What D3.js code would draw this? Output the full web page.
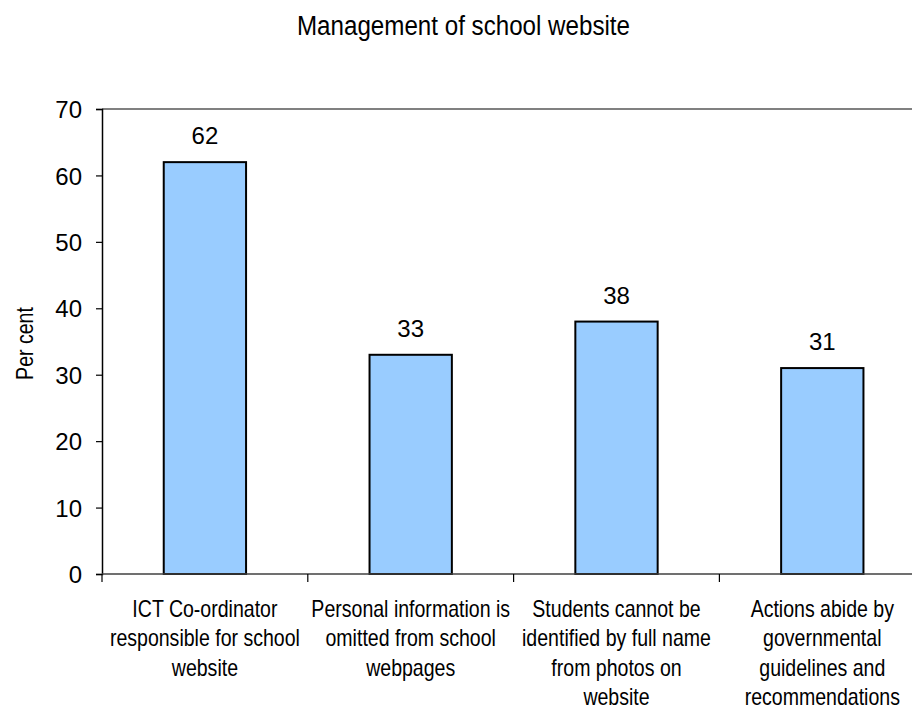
<!DOCTYPE html>
<html>
<head>
<meta charset="utf-8">
<script src="https://cdn.jsdelivr.net/npm/d3@7"></script>
<style>
  html, body { margin: 0; padding: 0; background: #fff; }
  svg { display: block; }
  text { font-family: "Liberation Sans", Arial, sans-serif; fill: #000; }
</style>
</head>
<body>
<svg id="chart" width="912" height="711"></svg>
<script>
// Survey results: share of schools (per cent) for each website-management practice
const categories = [
  ["ICT Co-ordinator", "responsible for school", "website"],
  ["Personal information is", "omitted from school", "webpages"],
  ["Students cannot be", "identified by full name", "from photos on", "website"],
  ["Actions abide by", "governmental", "guidelines and", "recommendations"]
];
const values = [62, 33, 38, 31];
const yTicks = [0, 10, 20, 30, 40, 50, 60, 70];
const title = "Management of school website";
const yTitle = "Per cent";

const svg = d3.select("#chart");
const margin = { left: 102, top: 109, bottom: 574 };
const plotRight = 102 + 4 * 205.8;
// horizontal squeeze used for the condensed labels
const narrow = 0.85;

const x = d3.scaleBand()
  .domain(d3.range(values.length))
  .range([margin.left, plotRight])
  .paddingInner(0.6)
  .paddingOuter(0.3);

const y = d3.scaleLinear().domain([0, 70]).range([margin.bottom, margin.top]);

// Title
svg.append("text")
  .attr("x", 463.5).attr("y", 35)
  .attr("text-anchor", "middle")
  .attr("font-size", 27)
  .attr("textLength", 333)
  .attr("lengthAdjust", "spacingAndGlyphs")
  .text(title);

// Plot area top border
svg.append("line")
  .attr("x1", margin.left).attr("x2", plotRight)
  .attr("y1", y(70)).attr("y2", y(70))
  .attr("stroke", "#808080").attr("stroke-width", 2);

// Bars
svg.selectAll("rect.bar")
  .data(values)
  .join("rect")
  .attr("class", "bar")
  .attr("x", (d, i) => x(i))
  .attr("width", x.bandwidth())
  .attr("y", d => y(d))
  .attr("height", d => y(0) - y(d))
  .attr("fill", "#99CCFF")
  .attr("stroke", "#000")
  .attr("stroke-width", 2);

// Value labels
svg.selectAll("text.val")
  .data(values)
  .join("text")
  .attr("class", "val")
  .attr("x", (d, i) => x(i) + x.bandwidth() / 2)
  .attr("y", d => y(d) - 18)
  .attr("text-anchor", "middle")
  .attr("font-size", 24)
  .text(d => d);

// Y axis
const yAxis = d3.axisLeft(y).tickValues(yTicks).tickSize(6).tickPadding(14);
const gy = svg.append("g")
  .attr("transform", `translate(${margin.left},0)`)
  .call(yAxis);
gy.select(".domain").attr("stroke", "#000").attr("stroke-width", 1.5);
gy.selectAll(".tick line").attr("stroke", "#000").attr("stroke-width", 1.2);
gy.selectAll(".tick text")
  .attr("font-family", null)
  .attr("font-size", 24)
  .attr("fill", "#000")
  .attr("dy", "0.36em");

// X axis baseline with category boundary ticks
const boundaries = d3.range(values.length + 1).map(i => margin.left + i * (plotRight - margin.left) / values.length);
svg.append("line")
  .attr("x1", margin.left).attr("x2", plotRight)
  .attr("y1", y(0)).attr("y2", y(0))
  .attr("stroke", "#404040").attr("stroke-width", 1.5);
svg.selectAll("line.xtick")
  .data(boundaries)
  .join("line")
  .attr("class", "xtick")
  .attr("x1", d => d).attr("x2", d => d)
  .attr("y1", y(0)).attr("y2", y(0) + 8)
  .attr("stroke", "#000").attr("stroke-width", 1.2);

// Category labels (condensed)
const catText = svg.selectAll("text.cat")
  .data(categories)
  .join("text")
  .attr("class", "cat")
  .attr("text-anchor", "middle")
  .attr("font-size", 23)
  .attr("transform", (d, i) => `translate(${x(i) + x.bandwidth() / 2},0) scale(${narrow},1)`);
catText.selectAll("tspan")
  .data(d => d)
  .join("tspan")
  .attr("x", 0)
  .attr("y", (d, j) => 617 + j * 29.5)
  .text(d => d);

// Y axis title
svg.append("text")
  .attr("transform", `translate(33,${(y(0) + y(70)) / 2 + 2}) rotate(-90) scale(${narrow},1)`)
  .attr("text-anchor", "middle")
  .attr("font-size", 23)
  .text(yTitle);
</script>
</body>
</html>
